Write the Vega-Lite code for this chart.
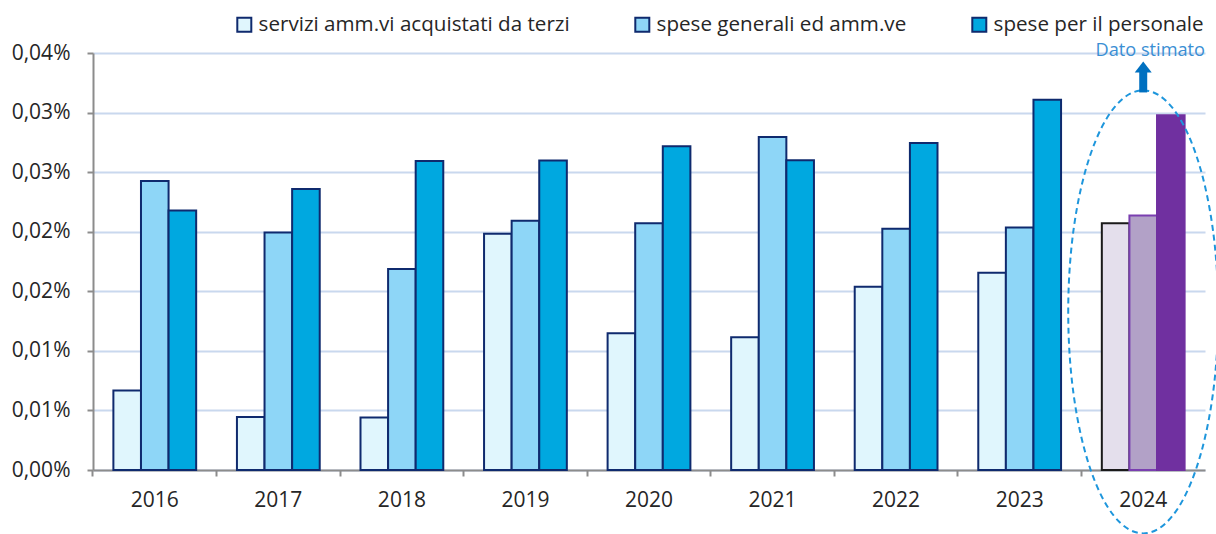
{
  "$schema": "https://vega.github.io/schema/vega-lite/v6.json",
  "width": 1112,
  "height": 417,
  "autosize": {"type": "none"},
  "padding": {"left": 93, "top": 53, "right": 11, "bottom": 64},
  "background": "white",
  "config": {"view": {"stroke": null}, "font": "Open Sans"},
  "datasets": {
    "spese": [
      {"anno": "2016", "voce": "servizi amm.vi acquistati da terzi", "valore": 0.00667},
      {"anno": "2016", "voce": "spese generali ed amm.ve", "valore": 0.02426},
      {"anno": "2016", "voce": "spese per il personale", "valore": 0.02178},
      {"anno": "2017", "voce": "servizi amm.vi acquistati da terzi", "valore": 0.00445},
      {"anno": "2017", "voce": "spese generali ed amm.ve", "valore": 0.01994},
      {"anno": "2017", "voce": "spese per il personale", "valore": 0.02359},
      {"anno": "2018", "voce": "servizi amm.vi acquistati da terzi", "valore": 0.00441},
      {"anno": "2018", "voce": "spese generali ed amm.ve", "valore": 0.01687},
      {"anno": "2018", "voce": "spese per il personale", "valore": 0.02594},
      {"anno": "2019", "voce": "servizi amm.vi acquistati da terzi", "valore": 0.01982},
      {"anno": "2019", "voce": "spese generali ed amm.ve", "valore": 0.02091},
      {"anno": "2019", "voce": "spese per il personale", "valore": 0.02597},
      {"anno": "2020", "voce": "servizi amm.vi acquistati da terzi", "valore": 0.01148},
      {"anno": "2020", "voce": "spese generali ed amm.ve", "valore": 0.0207},
      {"anno": "2020", "voce": "spese per il personale", "valore": 0.02717},
      {"anno": "2021", "voce": "servizi amm.vi acquistati da terzi", "valore": 0.01115},
      {"anno": "2021", "voce": "spese generali ed amm.ve", "valore": 0.02795},
      {"anno": "2021", "voce": "spese per il personale", "valore": 0.026},
      {"anno": "2022", "voce": "servizi amm.vi acquistati da terzi", "valore": 0.01539},
      {"anno": "2022", "voce": "spese generali ed amm.ve", "valore": 0.02024},
      {"anno": "2022", "voce": "spese per il personale", "valore": 0.02745},
      {"anno": "2023", "voce": "servizi amm.vi acquistati da terzi", "valore": 0.01656},
      {"anno": "2023", "voce": "spese generali ed amm.ve", "valore": 0.02036},
      {"anno": "2023", "voce": "spese per il personale", "valore": 0.03108},
      {"anno": "2024", "voce": "servizi amm.vi acquistati da terzi", "valore": 0.0207},
      {"anno": "2024", "voce": "spese generali ed amm.ve", "valore": 0.02137},
      {"anno": "2024", "voce": "spese per il personale", "valore": 0.02977}
    ]
  },
  "layer": [
    {
      "data": {"name": "spese"},
      "transform": [{"filter": "datum.anno != '2024'"}],
      "mark": {"type": "bar", "stroke": "#0F2A6E", "strokeWidth": 2},
      "encoding": {
        "x": {
          "field": "anno",
          "type": "nominal",
          "title": null,
          "scale": {"domain": ["2016","2017","2018","2019","2020","2021","2022","2023","2024"], "paddingInner": 0.33, "paddingOuter": 0.165},
          "axis": {
            "labelAngle": 0,
            "labelFontSize": 21,
            "labelColor": "#262626",
            "labelPadding": 13,
            "domainColor": "#8C8C8C",
            "domainWidth": 2,
            "tickColor": "#8C8C8C",
            "tickWidth": 2,
            "tickSize": 6,
            "bandPosition": -0.2463,
            "grid": false
          }
        },
        "xOffset": {
          "field": "voce",
          "type": "nominal",
          "sort": ["servizi amm.vi acquistati da terzi", "spese generali ed amm.ve", "spese per il personale"]
        },
        "y": {
          "field": "valore",
          "type": "quantitative",
          "title": null,
          "scale": {"domain": [0, 0.035], "nice": false},
          "axis": {
            "values": [0, 0.005, 0.01, 0.015, 0.02, 0.025, 0.03, 0.035],
            "labelExpr": "replace(format(datum.value + 0.000000001, '.2f'), '.', ',') + '%'",
            "labelFontSize": 21,
            "labelColor": "#262626",
            "labelPadding": 17,
            "domainColor": "#8C8C8C",
            "domainWidth": 2,
            "tickColor": "#8C8C8C",
            "tickWidth": 2,
            "tickSize": 6,
            "grid": true,
            "gridColor": "#C9D8EE",
            "gridWidth": 2
          }
        },
        "fill": {
          "field": "voce",
          "type": "nominal",
          "scale": {
            "domain": ["servizi amm.vi acquistati da terzi", "spese generali ed amm.ve", "spese per il personale"],
            "range": ["#E0F6FD", "#8ED6F7", "#00A8E0"]
          },
          "legend": {
            "title": null,
            "orient": "none",
            "legendX": 141,
            "legendY": -39,
            "direction": "horizontal",
            "symbolType": "square",
            "symbolSize": 196,
            "symbolStrokeColor": "#0F2A6E",
            "symbolStrokeWidth": 2,
            "labelFontSize": 20.6,
            "labelColor": "#262626",
            "labelLimit": 400,
            "columnPadding": 61,
            "labelOffset": 4
          }
        }
      }
    },
    {
      "data": {"name": "spese"},
      "transform": [{"filter": "datum.anno == '2024'"}],
      "mark": {"type": "bar", "strokeWidth": 2},
      "encoding": {
        "x": {"field": "anno", "type": "nominal"},
        "xOffset": {
          "field": "voce",
          "type": "nominal",
          "sort": ["servizi amm.vi acquistati da terzi", "spese generali ed amm.ve", "spese per il personale"]
        },
        "y": {"field": "valore", "type": "quantitative"},
        "fill": {
          "field": "voce",
          "type": "nominal",
          "scale": {
            "domain": ["servizi amm.vi acquistati da terzi", "spese generali ed amm.ve", "spese per il personale"],
            "range": ["#E4DFEC", "#B2A1C7", "#7030A0"]
          },
          "legend": null
        },
        "stroke": {
          "field": "voce",
          "type": "nominal",
          "scale": {
            "domain": ["servizi amm.vi acquistati da terzi", "spese generali ed amm.ve", "spese per il personale"],
            "range": ["#1A1A1A", "#7A3FB0", "#7030A0"]
          },
          "legend": null
        }
      }
    },
    {
      "data": {"values": [{"anno": "2024", "valore": 0.01327}]},
      "mark": {
        "type": "point",
        "shape": "M 0 -1 A 0.3386 1 0 1 1 0 1 A 0.3386 1 0 1 1 0 -1 Z",
        "size": 196249,
        "filled": false,
        "stroke": "#1E96DC",
        "strokeWidth": 2,
        "strokeDash": [6, 4],
        "opacity": 1
      },
      "encoding": {
        "x": {"field": "anno", "type": "nominal"},
        "y": {"field": "valore", "type": "quantitative"}
      }
    },
    {
      "data": {"values": [{"anno": "2024", "valore": 0.03169, "valore2": 0.03345}]},
      "mark": {"type": "rule", "color": "#0070C0", "strokeWidth": 8},
      "encoding": {
        "x": {"field": "anno", "type": "nominal"},
        "y": {"field": "valore", "type": "quantitative"},
        "y2": {"field": "valore2"}
      }
    },
    {
      "data": {"values": [{"anno": "2024", "valore": 0.03383}]},
      "mark": {
        "type": "point",
        "shape": "M 0 -0.65 L 1 0.65 L -1 0.65 Z",
        "size": 289,
        "filled": true,
        "color": "#0070C0",
        "opacity": 1
      },
      "encoding": {
        "x": {"field": "anno", "type": "nominal"},
        "y": {"field": "valore", "type": "quantitative"}
      }
    },
    {
      "data": {"values": [{"anno": "2024", "valore": 0.03479, "testo": "Dato stimato"}]},
      "mark": {"type": "text", "fontSize": 18.2, "color": "#3A8FD4", "align": "center", "baseline": "alphabetic", "dx": 7},
      "encoding": {
        "x": {"field": "anno", "type": "nominal"},
        "y": {"field": "valore", "type": "quantitative"},
        "text": {"field": "testo"}
      }
    }
  ],
  "resolve": {"scale": {"fill": "independent", "stroke": "independent"}}
}
